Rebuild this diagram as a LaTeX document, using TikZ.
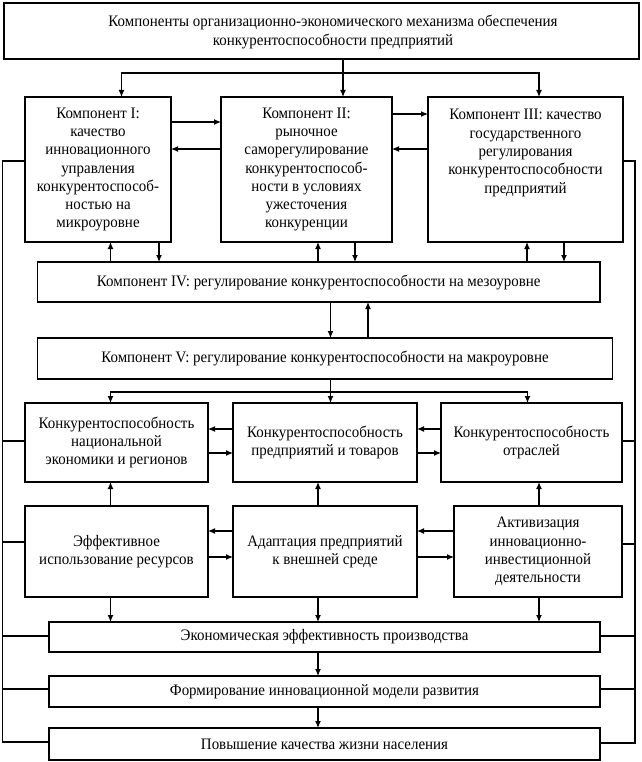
\documentclass[tikz,border=0pt]{standalone}
\usepackage{fontspec}
\setmainfont[FakeStretch=0.935]{Liberation Serif}
\usetikzlibrary{arrows.meta}
\tikzset{
  ln/.style={line width=1.2pt, line join=miter},
  arr/.style={ln, -{Latex[length=7pt,width=6pt]}},
  txt/.style={font=\fontsize{16pt}{18.3pt}\selectfont},
  box/.style={txt, draw, line width=1.2pt, align=center, inner sep=0pt, outer sep=0pt},
}
\begin{document}
\begin{tikzpicture}[x=1pt,y=-1pt]
\useasboundingbox (0,0) rectangle (641,762);
% boxes
\node[box, minimum width=635pt, minimum height=56pt] (top) at (321.5,31) {};
\node[txt, align=center, inner sep=0pt] (toptext) at (333,32)
  {Компоненты организационно-экономического механизма обеспечения\\конкурентоспособности предприятий};
\node[box, minimum width=146pt, minimum height=145pt] (c1) at (98,169.5)
  {Компонент I:\\качество\\инновационного\\управления\\конкурентоспособ-\\ностью на\\микроуровне};
\node[box, minimum width=171pt, minimum height=145pt] (c2) at (306.5,169.5)
  {Компонент II:\\рыночное\\саморегулирование\\конкурентоспособ-\\ности в условиях\\ужесточения\\конкуренции};
\node[box, minimum width=195pt, minimum height=145pt] (c3) at (525.5,169.5)
  {Компонент III: качество\\государственного\\регулирования\\конкурентоспособности\\предприятий\\\mbox{}\\\mbox{}};
\node[box, minimum width=562.5pt, minimum height=40pt] (c4) at (318.75,282)
  {Компонент IV: регулирование конкурентоспособности на мезоуровне};
\node[box, minimum width=575pt, minimum height=41pt] (c5) at (325,358.5)
  {Компонент V: регулирование конкурентоспособности на макроуровне};
\node[box, minimum width=183pt, minimum height=79pt] (r3a) at (116.5,442.5)
  {Конкурентоспособность\\национальной\\экономики и регионов};
\node[box, minimum width=184pt, minimum height=79pt] (r3b) at (325,442.5)
  {Конкурентоспособность\\предприятий и товаров};
\node[box, minimum width=181pt, minimum height=79pt] (r3c) at (531.5,442.5)
  {Конкурентоспособность\\отраслей};
\node[box, minimum width=183pt, minimum height=91pt] (r4a) at (116.5,551.5)
  {Эффективное\\использование ресурсов};
\node[box, minimum width=184pt, minimum height=91pt] (r4b) at (325,551.5)
  {Адаптация предприятий\\к внешней среде};
\node[box, minimum width=168pt, minimum height=91pt] (r4c) at (538,551.5)
  {Активизация\\инновационно-\\инвестиционной\\деятельности};
\node[box, minimum width=551pt, minimum height=30pt] (e1) at (324.5,637)
  {Экономическая эффективность производства};
\node[box, minimum width=551pt, minimum height=31pt] (e2) at (324.5,691.5)
  {Формирование инновационной модели развития};
\node[box, minimum width=551pt, minimum height=32pt] (e3) at (324.5,744)
  {Повышение качества жизни населения};
% top distribution
\coordinate (split) at (343,73);
\draw[arr] (top.south -| split) -- (c2.north -| split);
\draw[arr] (split) -| (c1.north -| 121.5,0);
\draw[arr] (split) -| (c3.north -| 539,0);
% between components
\draw[arr] (c1.east |- 0,122) -- (c2.west |- 0,122);
\draw[arr] (c2.west |- 0,149) -- (c1.east |- 0,149);
\draw[arr] (c2.east |- 0,114) -- (c3.west |- 0,114);
\draw[arr] (c3.west |- 0,149) -- (c2.east |- 0,149);
% components <-> IV
\draw[arr] (c4.north -| 110.5,0) -- (c1.south -| 110.5,0);
\draw[arr] (c1.south -| 159,0) -- (c4.north -| 159,0);
\draw[arr] (c4.north -| 318,0) -- (c2.south -| 318,0);
\draw[arr] (c2.south -| 355,0) -- (c4.north -| 355,0);
\draw[arr] (c4.north -| 527,0) -- (c3.south -| 527,0);
\draw[arr] (c3.south -| 564,0) -- (c4.north -| 564,0);
% IV <-> V
\draw[arr] (c4.south -| 330.5,0) -- (c5.north -| 330.5,0);
\draw[arr] (c5.north -| 368,0) -- (c4.south -| 368,0);
% V -> row 3
\coordinate (vsplit) at (330.5,392);
\draw[arr] (c5.south -| vsplit) -- (r3b.north -| vsplit);
\draw[arr] (vsplit) -| (r3a.north -| 110.5,0);
\draw[arr] (vsplit) -| (r3c.north -| 527.5,0);
% row 3 horizontals
\draw[arr] (r3b.west |- 0,429) -- (r3a.east |- 0,429);
\draw[arr] (r3a.east |- 0,453) -- (r3b.west |- 0,453);
\draw[arr] (r3c.west |- 0,429) -- (r3b.east |- 0,429);
\draw[arr] (r3b.east |- 0,453) -- (r3c.west |- 0,453);
% row 4 -> row 3
\draw[arr] (r4a.north -| 110.5,0) -- (r3a.south -| 110.5,0);
\draw[arr] (r4b.north -| 318,0) -- (r3b.south -| 318,0);
\draw[arr] (r4c.north -| 539,0) -- (r3c.south -| 539,0);
% row 4 horizontals
\draw[arr] (r4b.west |- 0,531) -- (r4a.east |- 0,531);
\draw[arr] (r4a.east |- 0,557) -- (r4b.west |- 0,557);
\draw[arr] (r4c.west |- 0,531) -- (r4b.east |- 0,531);
\draw[arr] (r4b.east |- 0,557) -- (r4c.west |- 0,557);
% row 4 -> e1
\draw[arr] (r4a.south -| 110.5,0) -- (e1.north -| 110.5,0);
\draw[arr] (r4b.south -| 318,0) -- (e1.north -| 318,0);
\draw[arr] (r4c.south -| 539,0) -- (e1.north -| 539,0);
\draw[arr] (e1.south -| 318,0) -- (e2.north -| 318,0);
\draw[arr] (e2.south -| 318,0) -- (e3.north -| 318,0);
% side feedback lines
\coordinate (lt) at (2.5,161);
\coordinate (lb) at (2.5,742);
\coordinate (rt) at (635,161);
\coordinate (rb) at (635,743);
\draw[ln] (c1.west |- lt) -- (lt) -- (lb) -- (e3.west |- lb);
\draw[ln] (lt |- 0,441) -- (r3a.west |- 0,441);
\draw[ln] (lt |- 0,542) -- (r4a.west |- 0,542);
\draw[ln] (lt |- 0,636) -- (e1.west |- 0,636);
\draw[ln] (lt |- 0,689) -- (e2.west |- 0,689);
\draw[ln] (c3.east |- rt) -- (rt) -- (rb) -- (e3.east |- rb);
\draw[ln] (rt |- 0,441) -- (r3c.east |- 0,441);
\draw[ln] (rt |- 0,544) -- (r4c.east |- 0,544);
\draw[ln] (rt |- 0,636) -- (e1.east |- 0,636);
\draw[ln] (rt |- 0,689) -- (e2.east |- 0,689);
\end{tikzpicture}
\end{document}
